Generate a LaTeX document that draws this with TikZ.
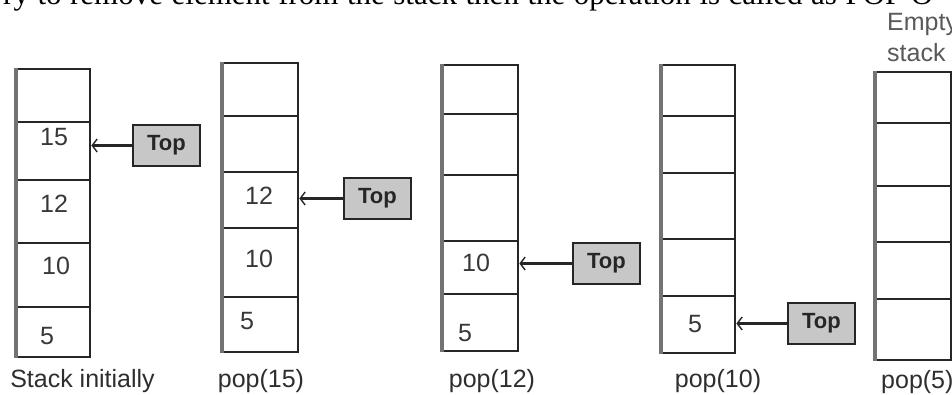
\documentclass[tikz,border=0pt]{standalone}
\usepackage{fontspec}
\setmainfont{Liberation Serif}
\newfontfamily\arialf{Liberation Sans}
\usetikzlibrary{arrows.meta}
\tikzset{
  cell/.style={draw=black!85, line width=2.6pt, inner sep=0pt},
  leftedge/.style={draw=black!55, line width=3.6pt},
  num/.style={inner sep=0pt, anchor=west, text=black!78, font=\arialf\fontsize{25}{25}\selectfont},
  lab/.style={inner sep=0pt, text=black!82, font=\arialf\fontsize{25}{25}\selectfont},
  topbox/.style={draw=black!85, line width=2.6pt, fill=black!22, minimum width=67pt, minimum height=41pt, inner sep=0pt, text=black!85, font=\arialf\bfseries\fontsize{22}{22}\selectfont},
  ptr/.style={draw=black!85, line width=3pt, -{Straight Barb[length=5pt,width=13pt,line width=1.4pt]}}
}
\newcommand\mystack[9]{%
  \node[cell,minimum width={#3-#2},minimum height={#5-#4}] (#1c1) at ({(#2+#3)/2},{(#4+#5)/2}) {};
  \node[cell,minimum width={#3-#2},minimum height={#6-#5}] (#1c2) at ({(#2+#3)/2},{(#5+#6)/2}) {};
  \node[cell,minimum width={#3-#2},minimum height={#7-#6}] (#1c3) at ({(#2+#3)/2},{(#6+#7)/2}) {};
  \node[cell,minimum width={#3-#2},minimum height={#8-#7}] (#1c4) at ({(#2+#3)/2},{(#7+#8)/2}) {};
  \node[cell,minimum width={#3-#2},minimum height={#9-#8}] (#1c5) at ({(#2+#3)/2},{(#8+#9)/2}) {};
  \draw[leftedge] (#1c1.north west) -- (#1c5.south west);
}
\begin{document}
\begin{tikzpicture}[x=1pt,y=-1pt]
\useasboundingbox (0,0) rectangle (952,395);
\clip (0,0) rectangle (952,395);
\fill[white] (0,0) rectangle (952,395);

% clipped line of running text at the top
\node[anchor=base west, inner sep=0pt, font=\fontsize{31}{31}\selectfont] (hdr) at (3,5)
  {\makebox[930pt][s]{ry to remove element from the stack then the operation is called as POP O}};

% stacks
\mystack{s1}{17}{90}{69}{122}{180}{243}{307}{357}
\mystack{s2}{223}{298}{63}{116}{172}{228}{297}{352}
\mystack{s3}{443}{518}{65}{114}{175}{241}{294}{351}
\mystack{s4}{662}{735}{65}{116}{173}{239}{296}{353}
\mystack{s5}{876}{951}{72}{123}{186}{242}{299}{360}

% values
\node[num] (v1a) at (40,137) {15};
\node[num] (v1b) at (40,204) {12};
\node[num] (v1c) at (42,266) {10};
\node[num] (v1d) at (40,336) {5};
\node[num] (v2a) at (245,196) {12};
\node[num] (v2b) at (245,259) {10};
\node[num] (v2c) at (240,321) {5};
\node[num] (v3a) at (462,263) {10};
\node[num] (v3b) at (458,333) {5};
\node[num] (v4a) at (688,324) {5};

% top pointers
\node[topbox] (t1) at (166.5,145.5) {Top};
\node[topbox] (t2) at (377.5,198.5) {Top};
\node[topbox] (t3) at (606.5,263.5) {Top};
\node[topbox] (t4) at (821.5,323.5) {Top};
\draw[ptr] (t1.west) -- (t1.west -| s1c2.east);
\draw[ptr] (t2.west) -- (t2.west -| s2c3.east);
\draw[ptr] (t3.west) -- (t3.west -| s3c4.east);
\draw[ptr] (t4.west) -- (t4.west -| s4c5.east);

% captions
\node[lab, anchor=base] (l1) at (82.5,387) {Stack initially};
\node[lab, anchor=base] (l2) at (261,387) {pop(15)};
\node[lab, anchor=base] (l3) at (492,387) {pop(12)};
\node[lab, anchor=base] (l4) at (718,387) {pop(10)};
\node[lab, anchor=base west] (l5) at (881,388) {pop(5)};
\node[lab, anchor=base west, text=black!65] (e1) at (887,31) {Empty};
\node[lab, anchor=base west, text=black!65] (e2) at (887,62) {stack};
\end{tikzpicture}
\end{document}
